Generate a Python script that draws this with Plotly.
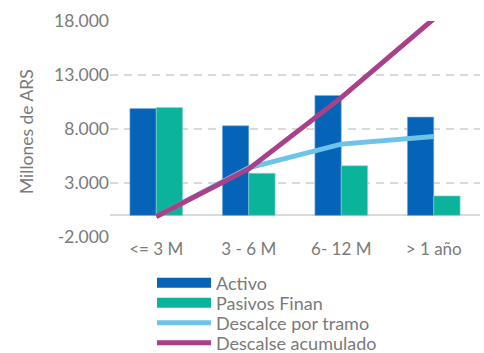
import plotly.graph_objects as go

categories = ["<= 3 M", "3 - 6 M", "6- 12 M", "> 1 año"]
activo = [9900, 8300, 11100, 9100]
pasivos = [10000, 3900, 4600, 1800]
descalce_tramo = [-100, 4400, 6600, 7300]
descalce_acum = [-100, 4300, 10900, 18200]
y_ticks = [-2000, 3000, 8000, 13000, 18000]
y_tick_labels = ["-2.000", "3.000", "8.000", "13.000", "18.000"]
y_title = "Millones de ARS"

GRAY = "#7a7a7a"
FONT = "Lato"
C_ACT = "#0563B8"
C_PAS = "#0BB39B"
C_TRA = "#6EC3EB"
C_ACU = "#A8418A"

fig = go.Figure()
fig.add_trace(go.Bar(x=categories, y=activo, name="Activo", showlegend=False,
                     marker=dict(color=C_ACT, line=dict(color="#7fb0e0", width=0.6))))
fig.add_trace(go.Bar(x=categories, y=pasivos, name="Pasivos Finan", showlegend=False,
                     marker=dict(color=C_PAS, line=dict(color="#8ad9cc", width=0.6))))
fig.add_trace(go.Scatter(x=categories, y=descalce_tramo, name="Descalce por tramo",
                         mode="lines", line=dict(color=C_TRA, width=5), legend="legend3"))
fig.add_trace(go.Scatter(x=categories, y=descalce_acum, name="Descalse acumulado",
                         mode="lines", line=dict(color=C_ACU, width=5), legend="legend4"))
# legend-only entries giving the bars a wide rectangular legend key
fig.add_trace(go.Scatter(x=[None], y=[None], name="Activo", mode="lines",
                         line=dict(color=C_ACT, width=10), legend="legend"))
fig.add_trace(go.Scatter(x=[None], y=[None], name="Pasivos Finan", mode="lines",
                         line=dict(color=C_PAS, width=10), legend="legend2"))

row_centers = [283, 303, 323, 343]
H = 353
def leg(yc):
    return dict(x=152 / 484, y=1 - yc / H, xref="container", yref="container",
                xanchor="left", yanchor="middle", orientation="v",
                font=dict(family=FONT, size=18, color=GRAY),
                itemwidth=54, bgcolor="rgba(0,0,0,0)", borderwidth=0)

fig.update_layout(
    width=484, height=H,
    margin=dict(l=110, r=4, t=21, b=116, autoexpand=False),
    paper_bgcolor="white", plot_bgcolor="white",
    font=dict(family=FONT, color=GRAY, size=16),
    barmode="group", bargap=0.43, bargroupgap=0,
    showlegend=True,
    legend=leg(row_centers[0]),
    legend2=leg(row_centers[1]),
    legend3=leg(row_centers[2]),
    legend4=leg(row_centers[3]),
    xaxis=dict(showgrid=False, showline=False, ticks="", automargin=False,
               tickfont=dict(family=FONT, size=17, color=GRAY)),
    yaxis=dict(range=[-2000, 18000], tickvals=y_ticks, ticktext=y_tick_labels,
               showgrid=True, gridcolor="#d9d9d9", griddash="8px,6px", gridwidth=1.5,
               zeroline=True, zerolinecolor="#d9d9d9", zerolinewidth=1.5,
               automargin=False,
               tickfont=dict(family=FONT, size=17.5, color=GRAY)),
    annotations=[dict(text=y_title, textangle=-90, xref="paper", yref="paper",
                      x=(26 - 110) / 370, y=(237 - 132) / 216,
                      xanchor="center", yanchor="middle", showarrow=False,
                      font=dict(family=FONT, size=17.5, color=GRAY))],
)

fig.write_html("out.html")
